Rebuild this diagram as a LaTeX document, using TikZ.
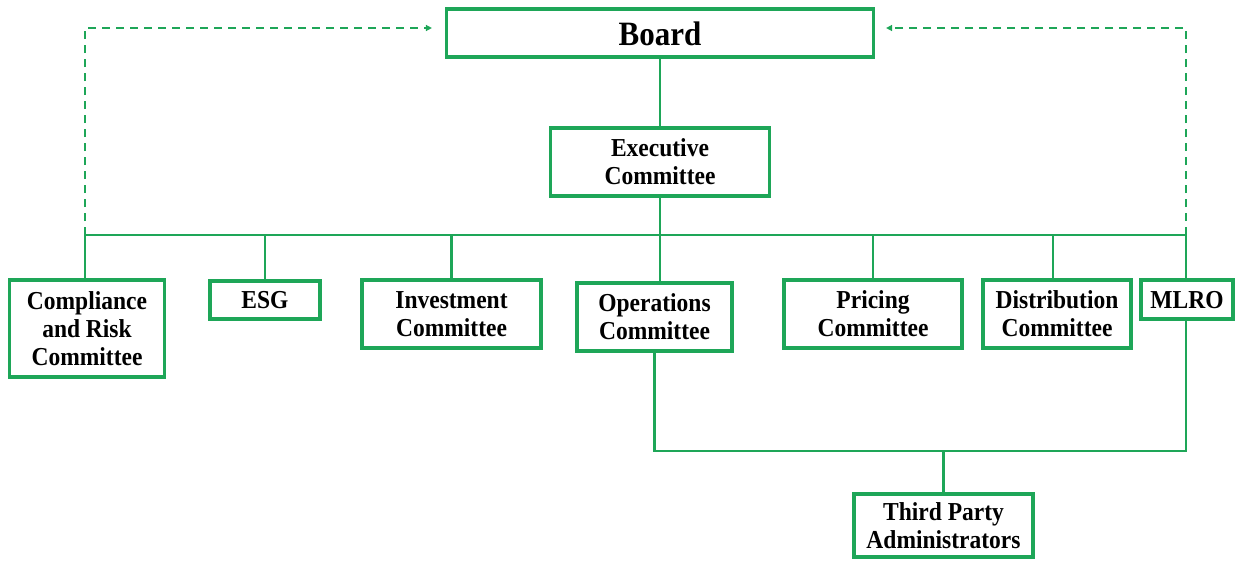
\documentclass[tikz,border=0pt]{standalone}
\usepackage{fontspec}
\setmainfont{Liberation Serif}
\usetikzlibrary{arrows.meta}
\definecolor{orggreen}{RGB}{30,166,88}
% slightly tall lettering for the box labels, set a little low in its box
\newcommand\boxlabel[1]{\raisebox{-3pt}[\height][\depth]{\scalebox{1}[1.1]{\fontsize{23.5}{25.5}\selectfont\bfseries
  \begin{tabular}{@{}c@{}}#1\end{tabular}}}}
\begin{document}
\begin{tikzpicture}[x=1pt,y=-1pt,
  box/.style={draw=orggreen,line width=3.2pt,inner sep=0pt,align=center},
  link/.style={draw=orggreen,line width=2.1pt},
  dotlink/.style={draw=orggreen,line width=2.1pt,dash pattern=on 8pt off 6pt,
    -{Triangle[length=6pt,width=6pt]}}]
\useasboundingbox (0,0) rectangle (1235,560);

% top of the hierarchy
\node[box,minimum width=427pt,minimum height=48pt] (board) at (660,33)
  {\raisebox{-1pt}[\height][\depth]{\scalebox{1}[1.1]{\fontsize{31}{34}\selectfont\bfseries Board}}};
\node[box,minimum width=219pt,minimum height=68pt] (exec) at (660,162) {\boxlabel{Executive\\Committee}};

% committees under the executive
\node[box,minimum width=155pt,minimum height=97pt] (comp) at (87,328.5) {\boxlabel{Compliance\\and Risk\\Committee}};
\node[box,minimum width=110pt,minimum height=38pt] (esg) at (265,300) {\boxlabel{ESG}};
\node[box,minimum width=179pt,minimum height=68pt] (inv) at (451.5,314) {\boxlabel{Investment\\Committee}};
\node[box,minimum width=155pt,minimum height=68pt] (ops) at (654.5,317) {\boxlabel{Operations\\Committee}};
\node[box,minimum width=178pt,minimum height=68pt] (pri) at (873,314) {\boxlabel{Pricing\\Committee}};
\node[box,minimum width=148pt,minimum height=68pt] (dist) at (1057,314) {\boxlabel{Distribution\\Committee}};
\node[box,minimum width=92pt,minimum height=39pt] (mlro) at (1187,299.5) {\boxlabel{MLRO}};
\node[box,minimum width=179pt,minimum height=63pt] (tpa) at (943.5,525.5) {\boxlabel{Third Party\\Administrators}};

% distribution bus
\coordinate (busL) at (85,235);
\coordinate (busR) at (1186,235);
\coordinate (tj) at (942,451);

\draw[link] (board.south) -- (exec.north);
\draw[link] (busL) -- (busR);
\draw[link] (exec.south) -- (exec.south |- ops.north);
\draw[link] (busL) -- (busL |- comp.north);
\draw[link] (esg.north) -- (esg.north |- busL);
\draw[link] (inv.north) -- (inv.north |- busL);
\draw[link] (pri.north) -- (pri.north |- busL);
\draw[link] ([xshift=-4pt]dist.north) -- ([xshift=-4pt]dist.north |- busL);
\draw[link] (busR) -- (busR |- mlro.north);

% reporting lines back to the board
\draw[dotlink] (busL) |- ([shift={(-13,-5)}]board.west);
\draw[dotlink] (busR) |- ([shift={(11,-5)}]board.east);

% outsourced administration
\draw[link] (ops.south) |- (tj) -| (busR |- mlro.south);
\draw[link] (tpa.north) -- (tpa.north |- tj);
\end{tikzpicture}
\end{document}
